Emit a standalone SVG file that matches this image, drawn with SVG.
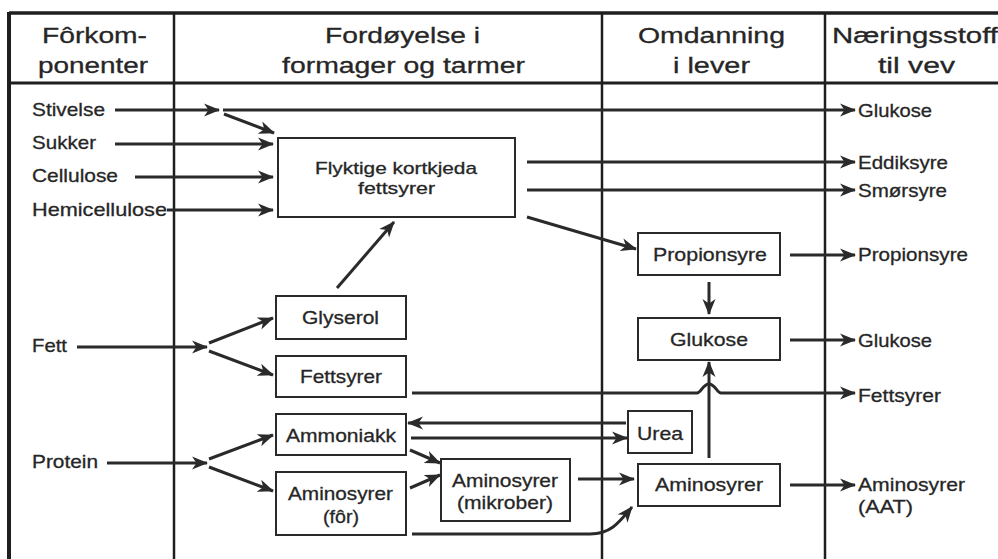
<svg xmlns="http://www.w3.org/2000/svg" width="998" height="559" viewBox="0 0 998 559">
<style>
text{font-family:"Liberation Sans",Arial,Helvetica,sans-serif;fill:#262626;stroke:#262626;stroke-width:0.3}
.h{font-size:22px}
.t{font-size:19px}
.s{font-size:17px}
.frame{stroke:#1e1e1e;fill:none}
.box rect{fill:#fff;stroke:#2a2a2a;stroke-width:2}
#connectors path{fill:none;stroke:#2a2a2a;stroke-width:3;marker-end:url(#ah)}
</style>
<defs>
<marker id="ah" markerUnits="userSpaceOnUse" markerWidth="17" markerHeight="15" refX="15" refY="7" orient="auto" viewBox="0 0 17 15">
<path d="M0,0.5 L16,7 L0,13.5 L4.5,7 z" fill="#2a2a2a"/>
</marker>
</defs>
<rect width="998" height="559" fill="#fff"/>
<g id="frame">
<line class="frame" x1="9" y1="13" x2="998" y2="13" stroke-width="3.5"/>
<line class="frame" x1="9" y1="12" x2="9" y2="559" stroke-width="4"/>
<line class="frame" x1="9" y1="83" x2="998" y2="83" stroke-width="3"/>
<line class="frame" x1="174" y1="13" x2="174" y2="559" stroke-width="2.5"/>
<line class="frame" x1="602" y1="13" x2="602" y2="559" stroke-width="2.5"/>
<line class="frame" x1="825" y1="13" x2="825" y2="559" stroke-width="2.5"/>
</g>
<g id="headers" class="h">
<text x="42" y="43" textLength="105" lengthAdjust="spacingAndGlyphs">Fôrkom-</text>
<text x="38" y="73" textLength="110" lengthAdjust="spacingAndGlyphs">ponenter</text>
<text x="325" y="43" textLength="155" lengthAdjust="spacingAndGlyphs">Fordøyelse i</text>
<text x="282" y="73" textLength="243" lengthAdjust="spacingAndGlyphs">formager og tarmer</text>
<text x="638" y="43" textLength="147" lengthAdjust="spacingAndGlyphs">Omdanning</text>
<text x="673" y="73" textLength="77" lengthAdjust="spacingAndGlyphs">i lever</text>
<text x="832" y="43" textLength="166" lengthAdjust="spacingAndGlyphs">Næringsstoff</text>
<text x="878" y="73" textLength="77" lengthAdjust="spacingAndGlyphs">til vev</text>
</g>
<g id="inputs" class="t">
<text id="stivelse" x="32" y="116" textLength="73" lengthAdjust="spacingAndGlyphs">Stivelse</text>
<text id="sukker" x="32" y="149" textLength="64" lengthAdjust="spacingAndGlyphs">Sukker</text>
<text id="cellulose" x="32" y="182" textLength="86" lengthAdjust="spacingAndGlyphs">Cellulose</text>
<text id="hemicellulose" x="32" y="216" textLength="135" lengthAdjust="spacingAndGlyphs">Hemicellulose</text>
<text id="fett" x="32" y="352" textLength="35" lengthAdjust="spacingAndGlyphs">Fett</text>
<text id="protein" x="32" y="468" textLength="66" lengthAdjust="spacingAndGlyphs">Protein</text>
</g>
<g id="outputs" class="t">
<text id="out-glukose1" x="858" y="117" textLength="74" lengthAdjust="spacingAndGlyphs">Glukose</text>
<text id="out-eddiksyre" x="858" y="169" textLength="90" lengthAdjust="spacingAndGlyphs">Eddiksyre</text>
<text id="out-smorsyre" x="858" y="197" textLength="89" lengthAdjust="spacingAndGlyphs">Smørsyre</text>
<text id="out-propionsyre" x="858" y="261" textLength="110" lengthAdjust="spacingAndGlyphs">Propionsyre</text>
<text id="out-glukose2" x="858" y="347" textLength="74" lengthAdjust="spacingAndGlyphs">Glukose</text>
<text id="out-fettsyrer" x="858" y="402" textLength="83" lengthAdjust="spacingAndGlyphs">Fettsyrer</text>
<text id="out-aat" x="858" y="491" textLength="107" lengthAdjust="spacingAndGlyphs">Aminosyrer</text>
<text x="858" y="513" textLength="55" lengthAdjust="spacingAndGlyphs">(AAT)</text>
</g>
<g id="vfa" class="box s">
<rect x="278" y="138" width="237" height="79"/>
<text x="315" y="174" textLength="162" lengthAdjust="spacingAndGlyphs">Flyktige kortkjeda</text>
<text x="358" y="194" textLength="77" lengthAdjust="spacingAndGlyphs">fettsyrer</text>
</g>
<g id="glyserol" class="box t">
<rect x="276" y="296" width="130" height="43"/>
<text x="302" y="324" textLength="77" lengthAdjust="spacingAndGlyphs">Glyserol</text>
</g>
<g id="fettsyrer" class="box t">
<rect x="276" y="356" width="130" height="41"/>
<text x="300" y="383" textLength="82" lengthAdjust="spacingAndGlyphs">Fettsyrer</text>
</g>
<g id="ammoniakk" class="box t">
<rect x="276" y="414" width="130" height="41"/>
<text x="286" y="442" textLength="110" lengthAdjust="spacingAndGlyphs">Ammoniakk</text>
</g>
<g id="aminosyrer-for" class="box t">
<rect x="276" y="472" width="130" height="63"/>
<text x="288" y="500" textLength="105" lengthAdjust="spacingAndGlyphs">Aminosyrer</text>
<text x="323" y="523" textLength="36" lengthAdjust="spacingAndGlyphs">(fôr)</text>
</g>
<g id="aminosyrer-mikrober" class="box t">
<rect x="441" y="459" width="129" height="62"/>
<text x="452" y="487" textLength="106" lengthAdjust="spacingAndGlyphs">Aminosyrer</text>
<text x="457" y="509" textLength="96" lengthAdjust="spacingAndGlyphs">(mikrober)</text>
</g>
<g id="propionsyre" class="box t">
<rect x="638" y="233" width="142" height="42"/>
<text x="653" y="261" textLength="114" lengthAdjust="spacingAndGlyphs">Propionsyre</text>
</g>
<g id="glukose" class="box t">
<rect x="638" y="318" width="142" height="42"/>
<text x="670" y="346" textLength="78" lengthAdjust="spacingAndGlyphs">Glukose</text>
</g>
<g id="urea" class="box t">
<rect x="628" y="411" width="64" height="42"/>
<text x="637" y="440" textLength="46" lengthAdjust="spacingAndGlyphs">Urea</text>
</g>
<g id="aminosyrer-lever" class="box t">
<rect x="638" y="464" width="142" height="42"/>
<text x="655" y="491" textLength="108" lengthAdjust="spacingAndGlyphs">Aminosyrer</text>
</g>
<g id="connectors">
<path d="M115,110 H219"/>
<path d="M223,110 H855"/>
<path d="M224,114 L274,133"/>
<path d="M115,144 H273"/>
<path d="M135,177 H273"/>
<path d="M167,210 H273"/>
<path d="M527,162 H855"/>
<path d="M527,190 H855"/>
<path d="M527,217 L636,249"/>
<path d="M337,288 L394,222"/>
<path d="M790,255 H855"/>
<path d="M709,282 V314"/>
<path d="M790,340 H855"/>
<path d="M77,347 H207"/>
<path d="M209,343 L273,318"/>
<path d="M209,351 L273,375"/>
<path d="M412,393 H697 C701,393 703,384 709,384 C715,384 717,393 721,393 H855"/>
<path d="M709,458 V362"/>
<path d="M790,485 H855"/>
<path d="M107,463 H207"/>
<path d="M209,459 L273,435"/>
<path d="M209,467 L273,491"/>
<path d="M626,423 H408"/>
<path d="M411,438 H627"/>
<path d="M410,450 L440,463"/>
<path d="M410,488 L440,475"/>
<path d="M578,479 H634"/>
<path d="M412,534 H590 C610,534 618,524 632,507"/>
</g>
</svg>
